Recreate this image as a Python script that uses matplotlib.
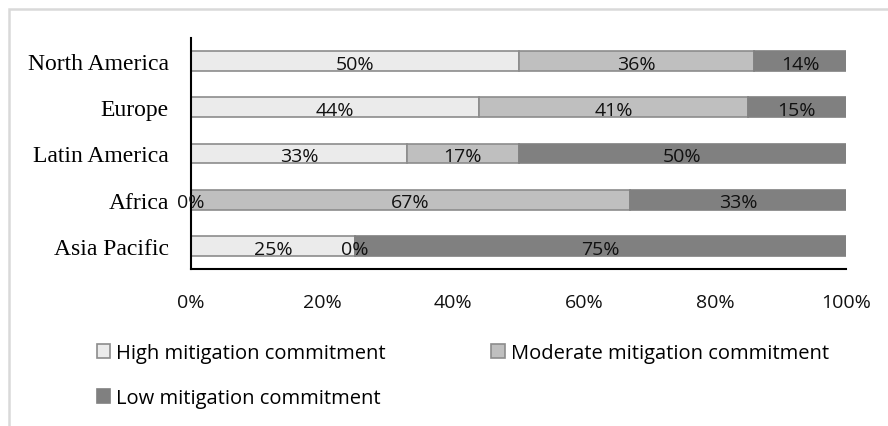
import numpy as np
import matplotlib.pyplot as plt
from matplotlib.patches import Rectangle

regions = ['North America', 'Europe', 'Latin America', 'Africa', 'Asia Pacific']
high = [50, 44, 33, 0, 25]
moderate = [36, 41, 17, 67, 0]
low = [14, 15, 50, 33, 75]

series = [('High mitigation commitment', high, '#ebebeb', '#8c8c8c'),
          ('Moderate mitigation commitment', moderate, '#bfbfbf', '#8c8c8c'),
          ('Low mitigation commitment', low, '#808080', '#808080')]

sans = 'Open Sans'
serif = 'Liberation Serif'

fig = plt.figure(figsize=(8.88, 4.27), dpi=100)
ax = fig.add_axes([191 / 888, 1 - 270 / 427, (846 - 191) / 888, (270 - 39) / 427])

# light frame around the chart area
fig.patches.append(Rectangle((9 / 888, -0.1), 1.2, 1 - 10 / 427 + 0.1,
                             transform=fig.transFigure, fill=False,
                             edgecolor='#d9d9d9', linewidth=1.8))

y = np.arange(len(regions))
left = np.zeros(len(regions))
bars = []
for name, vals, color, edge in series:
    vals = np.array(vals, dtype=float)
    b = ax.barh(y, vals, left=left, height=0.43, color=color, edgecolor=edge,
                linewidth=1.2, label=name)
    bars.append(b)
    for yi, l, v in zip(y, left, vals):
        ax.text(l + v / 2, yi + 0.06, '%d%%' % v, ha='center', va='center',
                fontsize=14, family=sans, color='#111111')
    left += vals

ax.set_xlim(0, 100)
ax.set_ylim(len(regions) - 0.5, -0.5)
ax.set_xticks(np.arange(0, 101, 20))
ax.set_xticklabels(['%d%%' % v for v in range(0, 101, 20)], family=sans,
                   fontsize=14, color='#111111')
ax.set_yticks(y)
ax.set_yticklabels(regions, family=serif, fontsize=17)
ax.tick_params(axis='x', length=0, pad=17)
ax.tick_params(axis='y', length=0, pad=16)
for s in ['top', 'right']:
    ax.spines[s].set_visible(False)
for s in ['left', 'bottom']:
    ax.spines[s].set_linewidth(1.5)
    ax.spines[s].set_color('black')

# two columns, filled column by column: High/Low left, Moderate right
order = [0, 2, 1]
fig.legend([bars[i] for i in order], [series[i][0] for i in order],
           loc='upper left', bbox_to_anchor=(97 / 888, 1 - 344 / 427), ncol=2,
           frameon=False, prop={'family': sans, 'size': 14.5},
           handlelength=0.65, handleheight=0.65, handletextpad=0.3,
           columnspacing=5.25, labelspacing=1.25, borderaxespad=0, borderpad=0)

fig.savefig('out.png', dpi=100)
